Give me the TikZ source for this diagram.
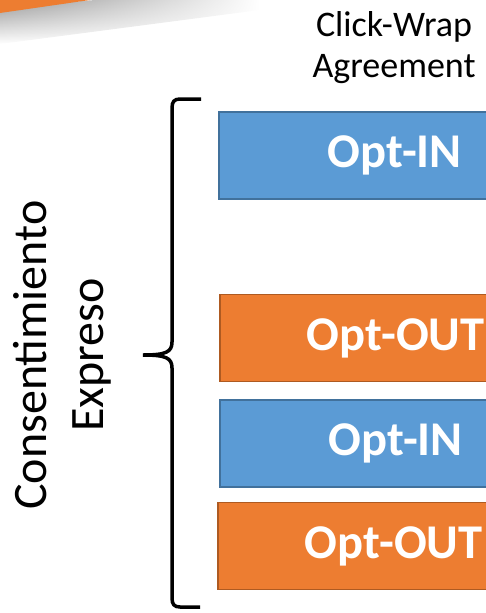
\documentclass[tikz,border=0pt]{standalone}
\usepackage{fontspec}
\setmainfont{Carlito}
\usetikzlibrary{fadings}
\definecolor{inblue}{HTML}{5B9BD5}
\definecolor{inedge}{HTML}{41719C}
\definecolor{outorange}{HTML}{ED7D31}
\definecolor{outedge}{HTML}{AE5A21}
\begin{document}
\begin{tikzpicture}[x=1pt, y=-1pt,
    optbox/.style={anchor=west, minimum width=352pt, minimum height=87pt, line width=1.5pt,
        text=white, font=\fontsize{48.5}{52}\selectfont\bfseries, inner sep=0pt},
    optin/.style={optbox, fill=inblue, draw=inedge},
    optout/.style={optbox, fill=outorange, draw=outedge}]
    \useasboundingbox (0,0) rectangle (486,613);
    \shade[top color=black!40, bottom color=white, path fading=east] (0,8) -- (95,0) -- (260,0) -- (260,10) -- (0,44) -- cycle;
    \fill[outorange] (0,0) -- (90,0) -- (0,13) -- cycle;
    \node[align=center, font=\fontsize{36}{41}\selectfont] (title) at (394,48) {Click-Wrap\\Agreement};
    \node[optin] (in1) at (218,155.5) {Opt-IN};
    \node[optout] (out1) at (219,338) {Opt-OUT};
    \node[optin] (in2) at (219,443.5) {Opt-IN};
    \node[optout] (out2) at (217,546) {Opt-OUT};
    \draw[line width=3.5pt] (201,99) -- (180,99) .. controls (174,99) and (172,102) .. (172,108)
        -- (172,342) .. controls (172,352) and (166,355) .. (143,355)
        .. controls (166,355) and (172,358) .. (172,368)
        -- (172,598) .. controls (172,604) and (174,607) .. (180,607) -- (200,607);
    \node[rotate=90, align=center, font=\fontsize{48}{57}\selectfont] (label) at (62,355) {Consentimiento\\Expreso};
\end{tikzpicture}
\end{document}
